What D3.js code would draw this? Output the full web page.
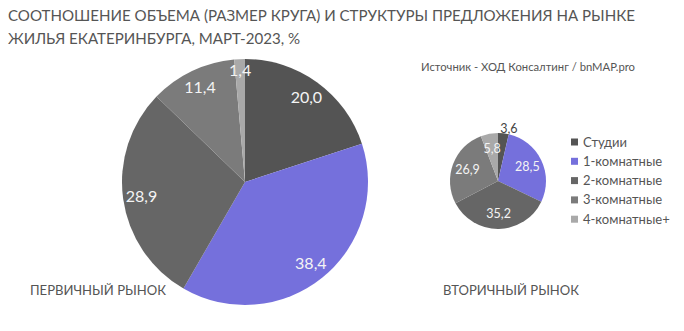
<!DOCTYPE html>
<html>
<head>
<meta charset="utf-8">
<script src="https://cdn.jsdelivr.net/npm/d3@7"></script>
<style>
  html, body { margin: 0; padding: 0; background: #fff; }
  svg { display: block; font-family: "Lato", "Open Sans", sans-serif; }
</style>
</head>
<body>
<svg id="chart" width="684" height="331"></svg>
<script>
// Apartment types (legend order, clockwise slice order)
const categories = ["Студии", "1-комнатные", "2-комнатные", "3-комнатные", "4-комнатные+"];
// Share of supply, %
const primaryValues = [20.0, 38.4, 28.9, 11.4, 1.4];
const secondaryValues = [3.6, 28.5, 35.2, 26.9, 5.8];
const primaryLabels = ["20,0", "38,4", "28,9", "11,4", "1,4"];
const secondaryLabels = ["3,6", "28,5", "35,2", "26,9", "5,8"];
const colors = ["#545454", "#7570dc", "#666666", "#7b7b7b", "#a9a9a9"];

const titleLines = [
  "СООТНОШЕНИЕ ОБЪЕМА (РАЗМЕР КРУГА) И СТРУКТУРЫ ПРЕДЛОЖЕНИЯ НА РЫНКЕ",
  "ЖИЛЬЯ ЕКАТЕРИНБУРГА, МАРТ-2023, %"
];
const sourceText = "Источник - ХОД Консалтинг  / bnMAP.pro";
const primaryTitle = "ПЕРВИЧНЫЙ РЫНОК";
const secondaryTitle = "ВТОРИЧНЫЙ РЫНОК";

const svg = d3.select("#chart");
const color = d3.scaleOrdinal().domain(categories).range(colors);

// Title
const titleWidths = [627, 292];
svg.selectAll("text.title")
  .data(titleLines)
  .join("text")
  .attr("class", "title")
  .attr("x", 8)
  .attr("y", (d, i) => 21 + i * 22.5)
  .attr("font-size", 15)
  .attr("fill", "#555")
  .attr("textLength", (d, i) => titleWidths[i])
  .attr("lengthAdjust", "spacingAndGlyphs")
  .text(d => d);

svg.append("text")
  .attr("x", 421).attr("y", 71)
  .attr("font-size", 11)
  .attr("fill", "#555")
  .attr("textLength", 214)
  .attr("lengthAdjust", "spacingAndGlyphs")
  .text(sourceText);

const pie = d3.pie().sort(null).value(d => d.value);

// special: per-slice label radius factor (>1 means placed outside the slice)
function drawPie(cx, cy, radius, values, labels, fontSize, labelR, special) {
  const data = categories.map((c, i) => ({ cat: c, value: values[i], label: labels[i] }));
  const arcs = pie(data);
  const g = svg.append("g").attr("transform", `translate(${cx},${cy})`);
  const arc = d3.arc().innerRadius(0).outerRadius(radius);
  g.selectAll("path")
    .data(arcs)
    .join("path")
    .attr("d", arc)
    .attr("fill", d => color(d.data.cat));
  g.selectAll("text")
    .data(arcs)
    .join("text")
    .attr("transform", (d, i) => {
      const r = (special[i] || labelR) * radius;
      const a = (d.startAngle + d.endAngle) / 2;
      const outside = special[i] && special[i] > 1;
      return `translate(${Math.sin(a) * r + (outside ? 5 : 0)},${-Math.cos(a) * r})`;
    })
    .attr("text-anchor", "middle")
    .attr("dy", "0.35em")
    .attr("font-size", fontSize)
    .attr("fill", (d, i) => (special[i] && special[i] > 1) ? "#444" : "#f4f4f4")
    .text(d => d.data.label);
}

drawPie(245, 182, 123, primaryValues, primaryLabels, 16, 0.85, { 4: 0.91 });
drawPie(498, 181, 48, secondaryValues, secondaryLabels, 12.5, 0.68, { 0: 1.1 });

// Market captions
svg.append("text")
  .attr("x", 30).attr("y", 295)
  .attr("font-size", 14).attr("fill", "#555")
  .attr("textLength", 136).attr("lengthAdjust", "spacingAndGlyphs")
  .text(primaryTitle);
svg.append("text")
  .attr("x", 443).attr("y", 295)
  .attr("font-size", 14).attr("fill", "#555")
  .attr("textLength", 136).attr("lengthAdjust", "spacingAndGlyphs")
  .text(secondaryTitle);

// Legend
const legend = svg.append("g").attr("transform", "translate(571,142)");
const item = legend.selectAll("g")
  .data(categories)
  .join("g")
  .attr("transform", (d, i) => `translate(0,${i * 19.3})`);
item.append("rect")
  .attr("x", 0).attr("y", -3.5)
  .attr("width", 7).attr("height", 7)
  .attr("fill", d => color(d));
item.append("text")
  .attr("x", 12).attr("dy", "0.35em")
  .attr("font-size", 13).attr("fill", "#555")
  .text(d => d);
</script>
</body>
</html>
